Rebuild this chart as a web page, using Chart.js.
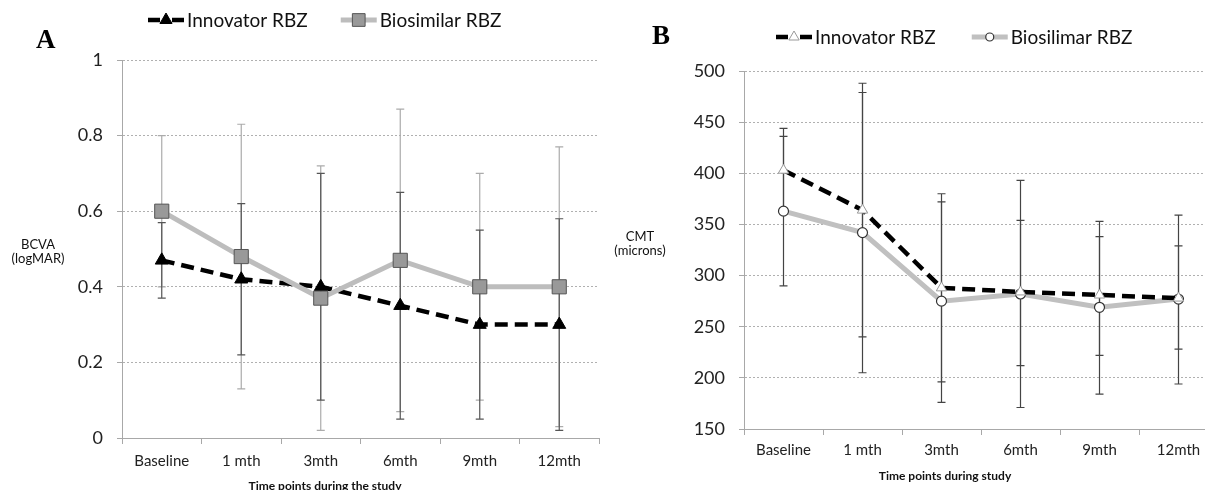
<!DOCTYPE html>
<html>
<head>
<meta charset="utf-8">
<script src="https://cdn.jsdelivr.net/npm/chart.js@4.4.0/dist/chart.umd.min.js"></script>
<style>
  html, body { margin: 0; padding: 0; background: #fff; width: 1205px; height: 490px; overflow: hidden; }
  canvas { position: absolute; top: 0; }
</style>
</head>
<body>
<canvas id="chartA" width="610" height="490" style="left:0"></canvas>
<canvas id="chartB" width="625" height="490" style="left:600px"></canvas>
<script>
const timePoints = ['Baseline', '1 mth', '3mth', '6mth', '9mth', '12mth'];

// panel A - BCVA (logMAR)
const bcvaInnovator = [0.47, 0.42, 0.40, 0.35, 0.30, 0.30];
const bcvaInnovatorLow = [0.37, 0.22, 0.10, 0.05, 0.05, 0.02];
const bcvaInnovatorHigh = [0.57, 0.62, 0.70, 0.65, 0.55, 0.58];
const bcvaBiosimilar = [0.60, 0.48, 0.37, 0.47, 0.40, 0.40];
const bcvaBiosimilarLow = [0.40, 0.13, 0.02, 0.07, 0.10, 0.03];
const bcvaBiosimilarHigh = [0.80, 0.83, 0.72, 0.87, 0.70, 0.77];

// panel B - CMT (microns)
const cmtInnovator = [403, 364, 288, 284, 281, 278];
const cmtInnovatorLow = [362, 240, 196, 171, 222, 228];
const cmtInnovatorHigh = [444, 488, 380, 393, 338, 329];
const cmtBiosimilar = [363, 342, 275, 282, 269, 277];
const cmtBiosimilarLow = [290, 205, 176, 212, 184, 194];
const cmtBiosimilarHigh = [436, 479, 372, 354, 353, 359];

// error bars drawn under the lines, through the chart's own scales
const errorBarPlugin = {
  id: 'errorBars',
  beforeDatasetsDraw(chart) {
    const ctx = chart.ctx;
    const xs = chart.scales.x, ys = chart.scales.y;
    ctx.save();
    ctx.setLineDash([]);
    chart.data.datasets.slice().reverse().forEach(ds => {
      ctx.strokeStyle = ds.errColor;
      ctx.lineWidth = 1.2;
      ds.errLow.forEach((lo, i) => {
        const px = xs.getPixelForValue(i);
        const pLo = ys.getPixelForValue(lo);
        const pHi = ys.getPixelForValue(ds.errHigh[i]);
        ctx.beginPath();
        ctx.moveTo(px, pLo); ctx.lineTo(px, pHi);
        ctx.moveTo(px - 4, pLo); ctx.lineTo(px + 4, pLo);
        ctx.moveTo(px - 4, pHi); ctx.lineTo(px + 4, pHi);
        ctx.stroke();
      });
    });
    ctx.restore();
  }
};

function marker(ctx, style, x, y, r, fill, stroke, bw) {
  ctx.beginPath();
  if (style === 'triangle') {
    ctx.moveTo(x, y - r);
    ctx.lineTo(x + r * 0.866, y + r * 0.5);
    ctx.lineTo(x - r * 0.866, y + r * 0.5);
    ctx.closePath();
  } else if (style === 'rect') {
    const s = r * Math.SQRT1_2;
    ctx.rect(x - s, y - s, 2 * s, 2 * s);
  } else {
    ctx.arc(x, y, r, 0, Math.PI * 2);
  }
  ctx.fillStyle = fill;
  ctx.fill();
  ctx.lineWidth = bw;
  ctx.strokeStyle = stroke;
  ctx.stroke();
}

// panel letter, legend, axis titles
function decorPlugin(cfg) {
  return {
    id: 'decor',
    afterDraw(chart) {
      const ctx = chart.ctx;
      ctx.save();
      ctx.textBaseline = 'middle';
      ctx.fillStyle = '#000';
      ctx.font = 'bold 27px "Liberation Serif"';
      ctx.textAlign = 'left';
      ctx.fillText(cfg.letter, cfg.letterX, cfg.letterY);

      ctx.font = '13px Lato';
      ctx.fillStyle = '#111';
      ctx.textAlign = 'center';
      cfg.yTitle.forEach((t, i) => ctx.fillText(t, cfg.yTitleX, cfg.yTitleY + i * 14));

      ctx.font = 'bold 12px Lato';
      ctx.fillText(cfg.xTitle, cfg.xTitleX, cfg.xTitleY);

      ctx.font = '19px Lato';
      ctx.textAlign = 'left';
      let x = cfg.legendX;
      const cy = cfg.legendY;
      chart.data.datasets.forEach(ds => {
        ctx.strokeStyle = ds.borderColor;
        ctx.lineWidth = ds.borderWidth;
        ctx.setLineDash([]);
        ctx.beginPath();
        if (ds.borderDash) {
          ctx.moveTo(x, cy); ctx.lineTo(x + 12, cy);
          ctx.moveTo(x + 24, cy); ctx.lineTo(x + 36, cy);
        } else {
          ctx.moveTo(x, cy); ctx.lineTo(x + 36, cy);
        }
        ctx.stroke();
        marker(ctx, ds.pointStyle, x + 18, cy, ds.legendRadius, ds.pointBackgroundColor, ds.pointBorderColor, ds.pointBorderWidth);
        ctx.fillStyle = '#111';
        ctx.fillText(ds.label, x + 39, cy + 1);
        x += 39 + ctx.measureText(ds.label).width + cfg.legendGap;
      });
      ctx.restore();
    }
  };
}

function axes(yMin, yMax, step, yWidth, xHeight, xPad) {
  return {
    x: {
      type: 'category',
      offset: true,
      grid: { offset: true, drawOnChartArea: false, tickLength: 6, color: '#a8a8a8', tickColor: '#a8a8a8' },
      border: { color: '#a8a8a8' },
      ticks: { font: { family: 'Lato', size: 15 }, color: '#222', padding: xPad, maxRotation: 0, autoSkip: false },
      afterFit: s => { s.height = xHeight; s.paddingLeft = 0; s.paddingRight = 0; }
    },
    y: {
      min: yMin, max: yMax,
      ticks: {
        stepSize: step, font: { family: 'Lato', size: 18 }, color: '#222', padding: 14,
        callback: v => String(Math.round(v * 100) / 100)
      },
      grid: { color: '#b0b0b0', tickColor: '#a8a8a8', tickLength: 5 },
      border: { color: '#a8a8a8', dash: [2, 2] },
      afterFit: s => { s.width = yWidth; }
    }
  };
}

const common = {
  responsive: false,
  animation: false,
  devicePixelRatio: 1,
  plugins: { legend: { display: false }, tooltip: { enabled: false } }
};

new Chart(document.getElementById('chartA').getContext('2d'), {
  type: 'line',
  data: {
    labels: timePoints,
    datasets: [{
      label: 'Innovator RBZ',
      data: bcvaInnovator,
      errLow: bcvaInnovatorLow, errHigh: bcvaInnovatorHigh, errColor: '#555',
      borderColor: '#000', borderWidth: 4.5, borderDash: [13, 7],
      pointStyle: 'triangle', pointRadius: 7.5, legendRadius: 7,
      pointBackgroundColor: '#000', pointBorderColor: '#000', pointBorderWidth: 1,
      tension: 0, order: 1
    }, {
      label: 'Biosimilar RBZ',
      data: bcvaBiosimilar,
      errLow: bcvaBiosimilarLow, errHigh: bcvaBiosimilarHigh, errColor: '#ababab',
      borderColor: '#bdbdbd', borderWidth: 5,
      pointStyle: 'rect', pointRadius: 10, legendRadius: 9,
      pointBackgroundColor: '#999', pointBorderColor: '#555', pointBorderWidth: 1,
      tension: 0, order: 0
    }]
  },
  options: Object.assign({}, common, {
    // right padding covers the point overflow Chart.js reserves (radius + border)
    layout: { padding: { left: 0, right: 11, top: 60, bottom: 0 } },
    scales: axes(0, 1, 0.2, 122, 52, 8)
  }),
  plugins: [errorBarPlugin, decorPlugin({
    letter: 'A', letterX: 36, letterY: 41,
    yTitle: ['BCVA', '(logMAR)'], yTitleX: 38, yTitleY: 245,
    xTitle: 'Time points during the study', xTitleX: 325, xTitleY: 486,
    legendX: 148, legendY: 20, legendGap: 33
  })]
});

new Chart(document.getElementById('chartB').getContext('2d'), {
  type: 'line',
  data: {
    labels: timePoints,
    datasets: [{
      label: 'Innovator RBZ',
      data: cmtInnovator,
      errLow: cmtInnovatorLow, errHigh: cmtInnovatorHigh, errColor: '#444',
      borderColor: '#000', borderWidth: 4.5, borderDash: [13, 7],
      pointStyle: 'triangle', pointRadius: 6, legendRadius: 6,
      pointBackgroundColor: '#fff', pointBorderColor: '#999', pointBorderWidth: 1,
      tension: 0, order: 0
    }, {
      label: 'Biosilimar RBZ',
      data: cmtBiosimilar,
      errLow: cmtBiosimilarLow, errHigh: cmtBiosimilarHigh, errColor: '#444',
      borderColor: '#c0c0c0', borderWidth: 5,
      pointStyle: 'circle', pointRadius: 5, legendRadius: 4,
      pointBackgroundColor: '#fff', pointBorderColor: '#333', pointBorderWidth: 1.2,
      tension: 0, order: 1
    }]
  },
  options: Object.assign({}, common, {
    layout: { padding: { left: 0, right: 7, top: 71, bottom: 0 } },
    scales: axes(150, 500, 50, 144, 61, 6)
  }),
  plugins: [errorBarPlugin, decorPlugin({
    letter: 'B', letterX: 52, letterY: 37,
    yTitle: ['CMT', '(microns)'], yTitleX: 40, yTitleY: 237,
    xTitle: 'Time points during study', xTitleX: 345, xTitleY: 476,
    legendX: 176, legendY: 37, legendGap: 36
  })]
});
</script>
</body>
</html>
